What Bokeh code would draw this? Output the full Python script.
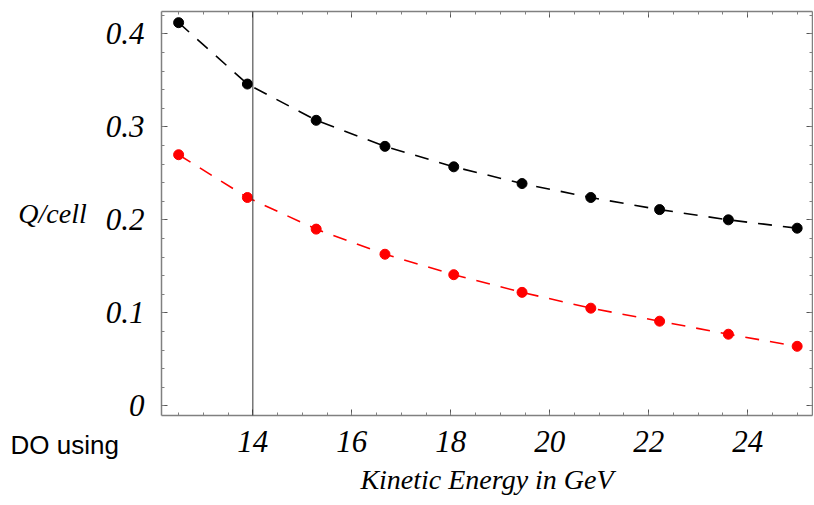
from bokeh.plotting import figure
from bokeh.models import (Range1d, FixedTicker, LinearAxis, Span, Title,
                          NumeralTickFormatter)
from bokeh.embed import file_html
from bokeh.resources import INLINE

# ---- data ----
energy = [12.5, 13.89, 15.28, 16.67, 18.06, 19.44, 20.83, 22.22, 23.61, 25.0]
q_black = [0.412, 0.346, 0.307, 0.279, 0.257, 0.239, 0.224, 0.211, 0.200, 0.191]
q_red = [0.270, 0.224, 0.190, 0.163, 0.141, 0.122, 0.105, 0.091, 0.077, 0.064]
x_ticks = [14, 16, 18, 20, 22, 24]
y_ticks = [0, 0.1, 0.2, 0.3, 0.4]
x_minor = [12.5 + 0.5 * i for i in range(26)]
y_minor = [round(0.02 * i, 2) for i in range(22)]
x_mark = 14
x_title = "Kinetic Energy in GeV"
y_title = "Q/cell"
stray_text = "DO using"

SERIF = "Liberation Serif"
AX = "#808080"

p = figure(width=813, height=500, output_backend="svg", toolbar_location=None,
           x_range=Range1d(12.154, 25.31), y_range=Range1d(-0.0104, 0.424),
           min_border_left=161, min_border_right=1, min_border_top=11,
           min_border_bottom=85, x_axis_location=None, y_axis_location=None)
p.grid.visible = False
p.outline_line_color = None
p.background_fill_color = "white"
p.border_fill_color = "white"

def style(ax, ticks, minor, labels=True):
    ax.ticker = FixedTicker(ticks=ticks, minor_ticks=minor)
    ax.axis_line_color = AX
    ax.axis_line_width = 1.5
    ax.major_tick_line_color = "#555555"
    ax.minor_tick_line_color = AX
    ax.major_tick_in = 6
    ax.major_tick_out = 0
    ax.minor_tick_in = 3
    ax.minor_tick_out = 0
    if labels:
        ax.major_label_text_font = SERIF
        ax.major_label_text_font_style = "italic"
        ax.major_label_text_font_size = "31px"
        ax.major_label_text_color = "black"
    else:
        ax.major_label_text_font_size = "0px"
        ax.major_label_standoff = 0

xb = LinearAxis()
style(xb, x_ticks, x_minor)
xb.major_label_standoff = 15
xb.axis_label = x_title
xb.axis_label_text_font = SERIF
xb.axis_label_text_font_style = "italic"
xb.axis_label_text_font_size = "28px"
xb.axis_label_text_color = "black"
xb.axis_label_standoff = 9
p.add_layout(xb, "below")

yl = LinearAxis()
style(yl, y_ticks, y_minor)
yl.formatter = NumeralTickFormatter(format="0.[0]")
yl.major_label_standoff = 17
yl.axis_label = y_title
yl.axis_label_orientation = "horizontal"
yl.axis_label_text_font = SERIF
yl.axis_label_text_font_style = "italic"
yl.axis_label_text_font_size = "28px"
yl.axis_label_text_color = "black"
yl.axis_label_standoff = 16
p.add_layout(yl, "left")

xt = LinearAxis()
style(xt, x_ticks, x_minor, labels=False)
p.add_layout(xt, "above")
yr = LinearAxis()
style(yr, y_ticks, y_minor, labels=False)
p.add_layout(yr, "right")

p.add_layout(Span(location=x_mark, dimension="height", line_color="#333333",
                  line_width=1))

p.line(energy, q_black, line_color="black", line_width=1.6, line_dash="14 11")
p.scatter(energy, q_black, size=10, color="black")
p.line(energy, q_red, line_color="#ff0000", line_width=1.6, line_dash="14 11")
p.scatter(energy, q_red, size=10, color="#ff0000")

stray = Title(text=stray_text, align="left", offset=-151, standoff=-136,
              vertical_align="top", text_font="Liberation Sans",
              text_font_style="normal", text_font_size="26px",
              text_color="black")
p.add_layout(stray, "below")

open("out.html", "w").write(file_html(p, INLINE))
